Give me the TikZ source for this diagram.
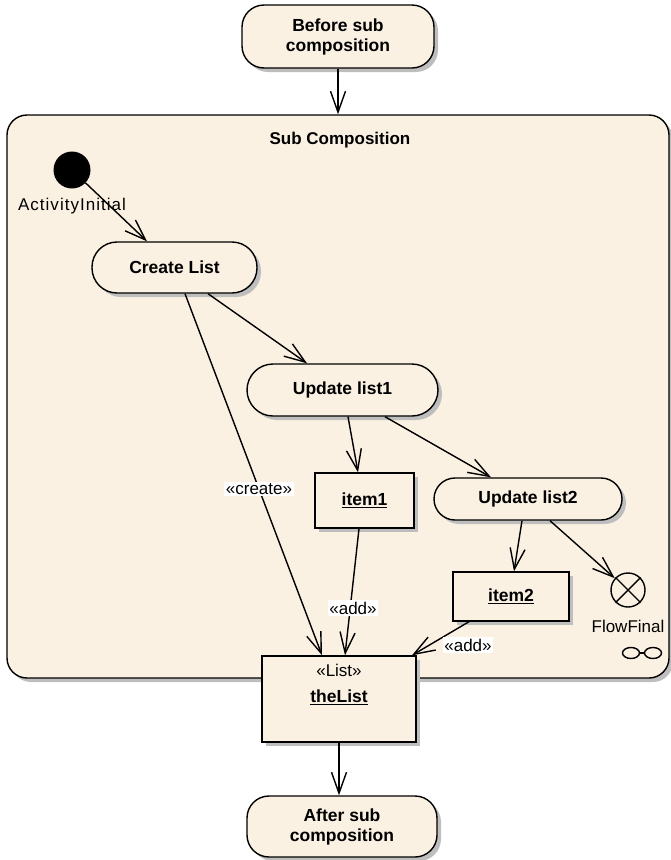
\documentclass[tikz,border=0pt]{standalone}
\usepackage{fontspec}
\setmainfont{Liberation Sans}
\usetikzlibrary{arrows.meta,shadows,shapes.geometric}
\definecolor{actfill}{RGB}{251,241,227}
\definecolor{shadowgray}{RGB}{190,190,190}
\begin{document}
\begin{tikzpicture}[x=1pt,y=-1pt,
  font=\fontsize{17}{20}\selectfont,
  every node/.style={inner sep=0pt},
  solidshadow/.style={general shadow={fill=shadowgray,shadow xshift=4pt,shadow yshift=-4pt}},
  act/.style={draw,line width=1.4pt,fill=actfill,solidshadow,font=\fontsize{17.5}{20}\selectfont\bfseries,align=center},
  objbox/.style={draw,line width=1.4pt,fill=actfill,solidshadow,font=\fontsize{17.5}{20}\selectfont\bfseries,align=center},
  flow/.style={line width=1.4pt,-{Straight Barb[length=21pt,width=15pt,line width=1.4pt]}},
  stereo/.style={fill=white,inner sep=1.5pt},
]
\useasboundingbox (0,0) rectangle (670,860);

% enclosing structured activity
\node[draw,line width=1.4pt,fill=actfill,rounded corners=20pt,solidshadow,
      minimum width=662pt,minimum height=563pt] (sub) at (338,396.5) {};
\node[font=\fontsize{17}{20}\selectfont\bfseries] (subname) at (340,140) {Sub Composition};

% outer actions
\node[act,rounded corners=22pt,minimum width=192pt,minimum height=63pt] (before) at (338,36.5) {Before sub\\composition};
\node[act,rounded corners=22pt,minimum width=190pt,minimum height=61pt] (after) at (342,826.5) {After sub\\composition};

% initial node
\node[circle,fill=black,minimum size=37pt] (init) at (72,170) {};
\node[font=\fontsize{17}{20}\addfontfeature{LetterSpace=6}] (initlbl) at (72,206) {ActivityInitial};

% actions inside
\node[act,rounded corners=25pt,minimum width=165pt,minimum height=51pt] (create) at (174.5,267.5) {Create List};
\node[act,rounded corners=26pt,minimum width=191pt,minimum height=52pt] (upd1) at (342.5,390) {Update list1};
\node[act,rounded corners=21pt,minimum width=188pt,minimum height=42pt] (upd2) at (528,499) {Update list2};

% object nodes
\node[objbox,minimum width=99pt,minimum height=55pt] (item1) at (364.5,500.5) {\underline{item1}};
\node[objbox,minimum width=116pt,minimum height=49pt] (item2) at (511,596.5) {\underline{item2}};
\node[objbox,minimum width=154pt,minimum height=86pt] (thelist) at (339,699) {};
\node[font=\fontsize{17}{20}\selectfont] (lsttype) at (339,670) {«List»};
\node[font=\fontsize{17.5}{20}\selectfont\bfseries] (lstname) at (339,697) {\underline{theList}};

% flow final
\node[circle,draw,line width=1.4pt,fill=actfill,minimum size=34pt] (final) at (628,590) {};
\draw[line width=1.4pt] (final.45) -- (final.225) (final.135) -- (final.315);
\node (finallbl) at (628,626) {FlowFinal};

% composite activity marker
\node[ellipse,draw,line width=1.4pt,minimum width=17pt,minimum height=11pt] (lnkA) at (631,653) {};
\node[ellipse,draw,line width=1.4pt,minimum width=17pt,minimum height=11pt] (lnkB) at (653,653) {};
\draw[line width=1.4pt] (lnkA.east) -- (lnkB.west);

% control and object flows
\draw[flow] (before.south) -- (before.south |- sub.north);
\draw[flow] (init) -- ([xshift=-27.5pt]create.north);
\draw[flow] ([xshift=33.5pt]create.south) -- ([xshift=-35.5pt]upd1.north);
\draw[flow] ([xshift=10.5pt]create.south) -- node[stereo,pos=0.54] (lblcreate) {«create»} ([xshift=-17pt]thelist.north);
\draw[flow] ([xshift=5.5pt]upd1.south) -- ([xshift=-6.5pt]item1.north);
\draw[flow] ([xshift=42.5pt]upd1.south) -- ([xshift=-37pt]upd2.north);
\draw[flow] ([xshift=-5.5pt]item1.south) -- ([xshift=6pt]thelist.north);
\node[stereo] (lbladd1) at (353,608) {«add»};
\draw[flow] ([xshift=-6pt]upd2.south) -- ([xshift=3pt]item2.north);
\draw[flow] ([xshift=22pt]upd2.south) -- (final);
\draw[flow] ([xshift=-42pt]item2.south) -- ([xshift=73pt]thelist.north);
\node[stereo] (lbladd2) at (468,645) {«add»};
\draw[flow] (thelist.south) -- (thelist.south |- after.north);
\end{tikzpicture}
\end{document}
